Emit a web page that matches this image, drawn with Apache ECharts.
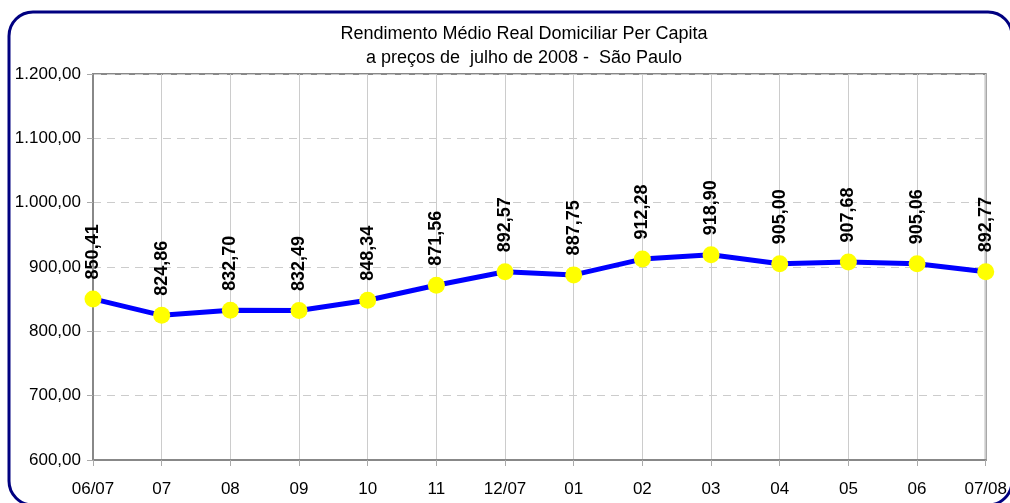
<!DOCTYPE html>
<html>
<head>
<meta charset="utf-8">
<script src="https://cdn.jsdelivr.net/npm/echarts@6/dist/echarts.min.js"></script>
<style>
  html, body { margin: 0; padding: 0; background: #fff; }
  #chart { width: 1010px; height: 503px; }
</style>
</head>
<body>
<div id="chart"></div>
<script>
// Monthly per-capita household income, São Paulo (July 2008 prices)
const months = ['06/07', '07', '08', '09', '10', '11', '12/07', '01', '02', '03', '04', '05', '06', '07/08'];
const income = [850.41, 824.86, 832.70, 832.49, 848.34, 871.56, 892.57, 887.75, 912.28, 918.90, 905.00, 907.68, 905.06, 892.77];
const yMin = 600;
const yMax = 1200;
const yStep = 100;
const titleLines = ['Rendimento Médio Real Domiciliar Per Capita', 'a preços de  julho de 2008 -  São Paulo'];

// Brazilian number format: 1.200,00
function fmtBR(v) {
  const parts = Number(v).toFixed(2).split('.');
  const intPart = parts[0].replace(/\B(?=(\d{3})+(?!\d))/g, '.');
  return intPart + ',' + parts[1];
}

const chart = echarts.init(document.getElementById('chart'), null, { renderer: 'canvas' });
const font = '"Liberation Sans", Arial, sans-serif';

chart.setOption({
  animation: false,
  backgroundColor: '#ffffff',
  graphic: [{
    // rounded frame around the whole chart
    type: 'rect',
    shape: { x: 9, y: 12, width: 1003, height: 493, r: 24 },
    style: { fill: 'none', stroke: '#000080', lineWidth: 3 },
    z: 100
  }],
  title: {
    text: titleLines.join('\n'),
    left: 519,
    top: 17,
    textAlign: 'center',
    textStyle: { fontFamily: font, fontSize: 18, fontWeight: 'normal', color: '#000', lineHeight: 24 }
  },
  grid: {
    left: 93, right: 23, top: 74, bottom: 43,
    show: true, borderColor: '#888', borderWidth: 2, backgroundColor: 'transparent'
  },
  xAxis: {
    type: 'category',
    data: months,
    boundaryGap: false,
    axisLine: { lineStyle: { color: '#888', width: 2 } },
    axisTick: { show: true, length: 6, lineStyle: { color: '#aaa', width: 1 } },
    axisLabel: { color: '#000', fontFamily: font, fontSize: 17, margin: 21, interval: 0 },
    splitLine: { show: true, lineStyle: { color: '#cccccc', width: 1, type: 'solid' } }
  },
  yAxis: {
    type: 'value',
    min: yMin, max: yMax, interval: yStep,
    axisLine: { show: true, lineStyle: { color: '#888', width: 2 } },
    axisTick: { show: true, length: 6, lineStyle: { color: '#aaa', width: 1 } },
    axisLabel: { color: '#000', fontFamily: font, fontSize: 17, margin: 12, formatter: fmtBR },
    splitLine: { show: true, lineStyle: { color: '#cccccc', width: 1, type: [8, 6] } }
  },
  series: [{
    type: 'line',
    data: income,
    symbol: 'circle',
    symbolSize: 17,
    lineStyle: { color: '#0000ff', width: 5 },
    itemStyle: { color: '#ffff00', borderWidth: 0 },
    label: {
      show: true,
      position: 'top',
      distance: 11,
      rotate: 90,
      align: 'left',
      verticalAlign: 'middle',
      color: '#000',
      fontFamily: font,
      fontSize: 18,
      fontWeight: 'bold',
      formatter: p => fmtBR(p.value)
    },
    z: 3
  }]
});
</script>
</body>
</html>
